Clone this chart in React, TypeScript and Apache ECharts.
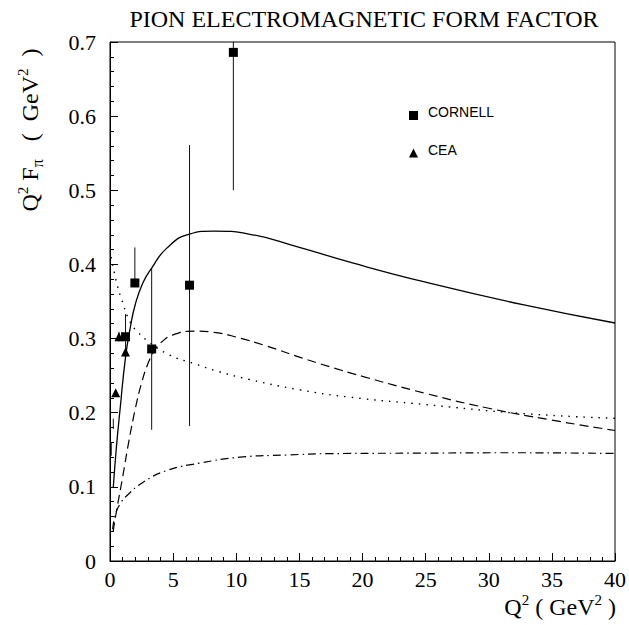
import React, { useEffect, useRef } from "react";
import * as echarts from "echarts";

// ---- axis ranges / ticks ----
const X_MIN = 0;
const X_MAX = 40;
const X_STEP = 5;
const Y_MIN = 0;
const Y_MAX = 0.7;
const Y_STEP = 0.1;

// ---- theory curves ----
const solidQ2 = [0.26, 0.5, 0.8, 1.23, 1.6, 2.0, 2.6, 3.3, 4.5, 6.3, 8.2, 11, 15, 19, 25, 32.6, 40];
const solidF = [0.099, 0.152, 0.205, 0.275, 0.314, 0.346, 0.375, 0.395, 0.422, 0.441, 0.445, 0.441, 0.423, 0.403, 0.376, 0.346, 0.321];

const dashedQ2 = [0.25, 0.5, 1.0, 1.5, 2.0, 2.5, 3.0, 3.5, 4.0, 5.0, 6.8, 8.4, 10, 12.4, 15, 17.4, 20, 25, 30, 35, 40];
const dashedF = [0.04, 0.066, 0.113, 0.162, 0.205, 0.24, 0.266, 0.283, 0.294, 0.305, 0.31, 0.308, 0.302, 0.29, 0.275, 0.262, 0.249, 0.226, 0.206, 0.19, 0.176];

const dottedQ2 = [0.1, 0.5, 0.9, 1.6, 2.2, 2.9, 4.7, 6.7, 8.5, 11, 15, 19, 25, 32.6, 40];
const dottedF = [0.41, 0.377, 0.354, 0.322, 0.309, 0.298, 0.278, 0.266, 0.256, 0.245, 0.231, 0.221, 0.211, 0.199, 0.1925];

const dashDotQ2 = [0.21, 0.4, 0.8, 1.45, 2.6, 4.5, 7.1, 10.3, 14, 17.4, 25, 32, 40];
const dashDotF = [0.043, 0.061, 0.077, 0.09, 0.106, 0.122, 0.132, 0.14, 0.143, 0.1448, 0.1455, 0.146, 0.145];

// ---- data ----
const cornellQ2 = [1.23, 1.97, 3.3, 6.3, 9.77];
const cornellF = [0.3025, 0.375, 0.286, 0.372, 0.686];
const cornellLow = [0.282, 0.372, 0.177, 0.182, 0.5];
const cornellHigh = [0.333, 0.423, 0.395, 0.561, 0.75];

const ceaQ2 = [0.45, 0.71, 1.23];
const ceaF = [0.227, 0.3025, 0.282];
const ceaLow = [0.227, 0.296, 0.282];
const ceaHigh = [0.227, 0.309, 0.282];

const extraBarQ2 = [0.26, 0.1];
const extraBarLow = [0.178, 0.142];
const extraBarHigh = [0.192, 0.16];

const zip = (a: number[], b: number[]) => a.map((v, i) => [v, b[i]]);

const SERIF = "'Liberation Serif', 'Times New Roman', serif";
const SANS = "'Liberation Sans', Arial, sans-serif";

function errorBarSeries(q: number[], lo: number[], hi: number[]) {
  return {
    type: "custom",
    silent: true,
    z: 3,
    data: q.map((v, i) => [v, Math.max(lo[i], Y_MIN), Math.min(hi[i], Y_MAX)]),
    renderItem: (_params: any, api: any) => {
      const p1 = api.coord([api.value(0), api.value(1)]);
      const p2 = api.coord([api.value(0), api.value(2)]);
      return {
        type: "line",
        shape: { x1: p1[0], y1: p1[1], x2: p2[0], y2: p2[1] },
        style: { stroke: "#111", lineWidth: 1 },
      };
    },
  };
}

function curve(q: number[], f: number[], type: any, width = 1.2) {
  return {
    type: "line",
    data: zip(q, f),
    showSymbol: false,
    smooth: 0.5,
    silent: true,
    z: 2,
    lineStyle: { color: "#000", width, type, opacity: 1 },
  };
}

const richLabel = {
  m: { fontFamily: SERIF, fontSize: 24, lineHeight: 30, fill: "#000" },
  sup: { fontFamily: SERIF, fontSize: 15, lineHeight: 30, verticalAlign: "top", fill: "#000" },
  sub: { fontFamily: SERIF, fontSize: 16, lineHeight: 30, verticalAlign: "bottom", fill: "#000" },
};

export default function App() {
  const ref = useRef<HTMLDivElement>(null);
  useEffect(() => {
    const chart = echarts.init(ref.current!, null, { renderer: "svg" });
    const option: any = {
      animation: false,
      backgroundColor: "#fff",
      grid: {
        left: 110,
        top: 42,
        right: 12,
        bottom: 64,
        show: true,
        borderColor: "#000",
        borderWidth: 1,
        backgroundColor: "transparent",
      },
      xAxis: {
        type: "value",
        min: X_MIN,
        max: X_MAX,
        interval: X_STEP,
        axisLine: { show: true, onZero: false, lineStyle: { color: "#000", width: 1 } },
        axisTick: { show: true, inside: true, length: 8, lineStyle: { color: "#000", width: 1 } },
        minorTick: { show: true, splitNumber: 5, length: 4, lineStyle: { color: "#000", width: 1 } },
        splitLine: { show: false },
        minorSplitLine: { show: false },
        axisLabel: { color: "#000", fontFamily: SERIF, fontSize: 22, margin: 7 },
      },
      yAxis: {
        type: "value",
        min: Y_MIN,
        max: Y_MAX,
        interval: Y_STEP,
        axisLine: { show: true, onZero: false, lineStyle: { color: "#000", width: 1 } },
        axisTick: { show: true, inside: true, length: 8, lineStyle: { color: "#000", width: 1 } },
        minorTick: { show: true, splitNumber: 5, length: 4, lineStyle: { color: "#000", width: 1 } },
        splitLine: { show: false },
        minorSplitLine: { show: false },
        axisLabel: {
          color: "#000",
          fontFamily: SERIF,
          fontSize: 22,
          margin: 14,
          formatter: (v: number) => (Math.abs(v) < 1e-9 ? "0" : v.toFixed(1)),
        },
      },
      series: [
        curve(solidQ2, solidF, "solid", 1.3),
        curve(dashedQ2, dashedF, [9, 5], 1.2),
        curve(dottedQ2, dottedF, [1.5, 6], 1.4),
        curve(dashDotQ2, dashDotF, [8, 4, 1.5, 4], 1.2),
        errorBarSeries(cornellQ2, cornellLow, cornellHigh),
        errorBarSeries(ceaQ2, ceaLow, ceaHigh),
        errorBarSeries(extraBarQ2, extraBarLow, extraBarHigh),
        {
          name: "CORNELL",
          type: "scatter",
          data: zip(cornellQ2, cornellF),
          symbol: "rect",
          symbolSize: 9,
          itemStyle: { color: "#000", opacity: 1 },
          z: 5,
          silent: true,
        },
        {
          name: "CEA",
          type: "scatter",
          data: zip(ceaQ2, ceaF),
          symbol: "triangle",
          symbolSize: 9,
          itemStyle: { color: "#000", opacity: 1 },
          z: 5,
          silent: true,
        },
      ],
      graphic: [
        {
          type: "text",
          x: 364,
          y: 19,
          style: {
            text: "PION ELECTROMAGNETIC FORM FACTOR",
            fontFamily: SERIF,
            fontSize: 24,
            fill: "#000",
            align: "center",
            verticalAlign: "middle",
            textAlign: "center",
            textVerticalAlign: "middle",
          },
        },
        {
          type: "text",
          x: 30,
          y: 130,
          rotation: Math.PI / 2,
          style: {
            text: "{m|Q}{sup|2}{m| F}{sub|π}{m|   (  GeV}{sup|2}{m|  )}",
            rich: richLabel,
            align: "center",
            verticalAlign: "middle",
            textAlign: "center",
            textVerticalAlign: "middle",
          },
        },
        {
          type: "text",
          x: 616,
          y: 607,
          style: {
            text: "{m|Q}{sup|2}{m| ( GeV}{sup|2}{m| )}",
            rich: richLabel,
            align: "right",
            verticalAlign: "middle",
            textAlign: "right",
            textVerticalAlign: "middle",
          },
        },
        {
          type: "rect",
          shape: { x: 409, y: 111, width: 9, height: 9 },
          style: { fill: "#000" },
        },
        {
          type: "polygon",
          shape: { points: [[413.5, 148.5], [409, 157.5], [418, 157.5]] },
          style: { fill: "#000" },
        },
        {
          type: "text",
          x: 428,
          y: 112,
          style: {
            text: "CORNELL",
            fontFamily: SANS,
            fontSize: 14,
            fill: "#000",
            align: "left",
            verticalAlign: "middle",
            textAlign: "left",
            textVerticalAlign: "middle",
          },
        },
        {
          type: "text",
          x: 428,
          y: 150,
          style: {
            text: "CEA",
            fontFamily: SANS,
            fontSize: 14,
            fill: "#000",
            align: "left",
            verticalAlign: "middle",
            textAlign: "left",
            textVerticalAlign: "middle",
          },
        },
      ],
    };
    chart.setOption(option);
    return () => chart.dispose();
  }, []);
  return (
    <div
      ref={ref}
      style={{ position: "fixed", left: 0, top: 0, width: 629, height: 625, background: "#fff" }}
    />
  );
}
